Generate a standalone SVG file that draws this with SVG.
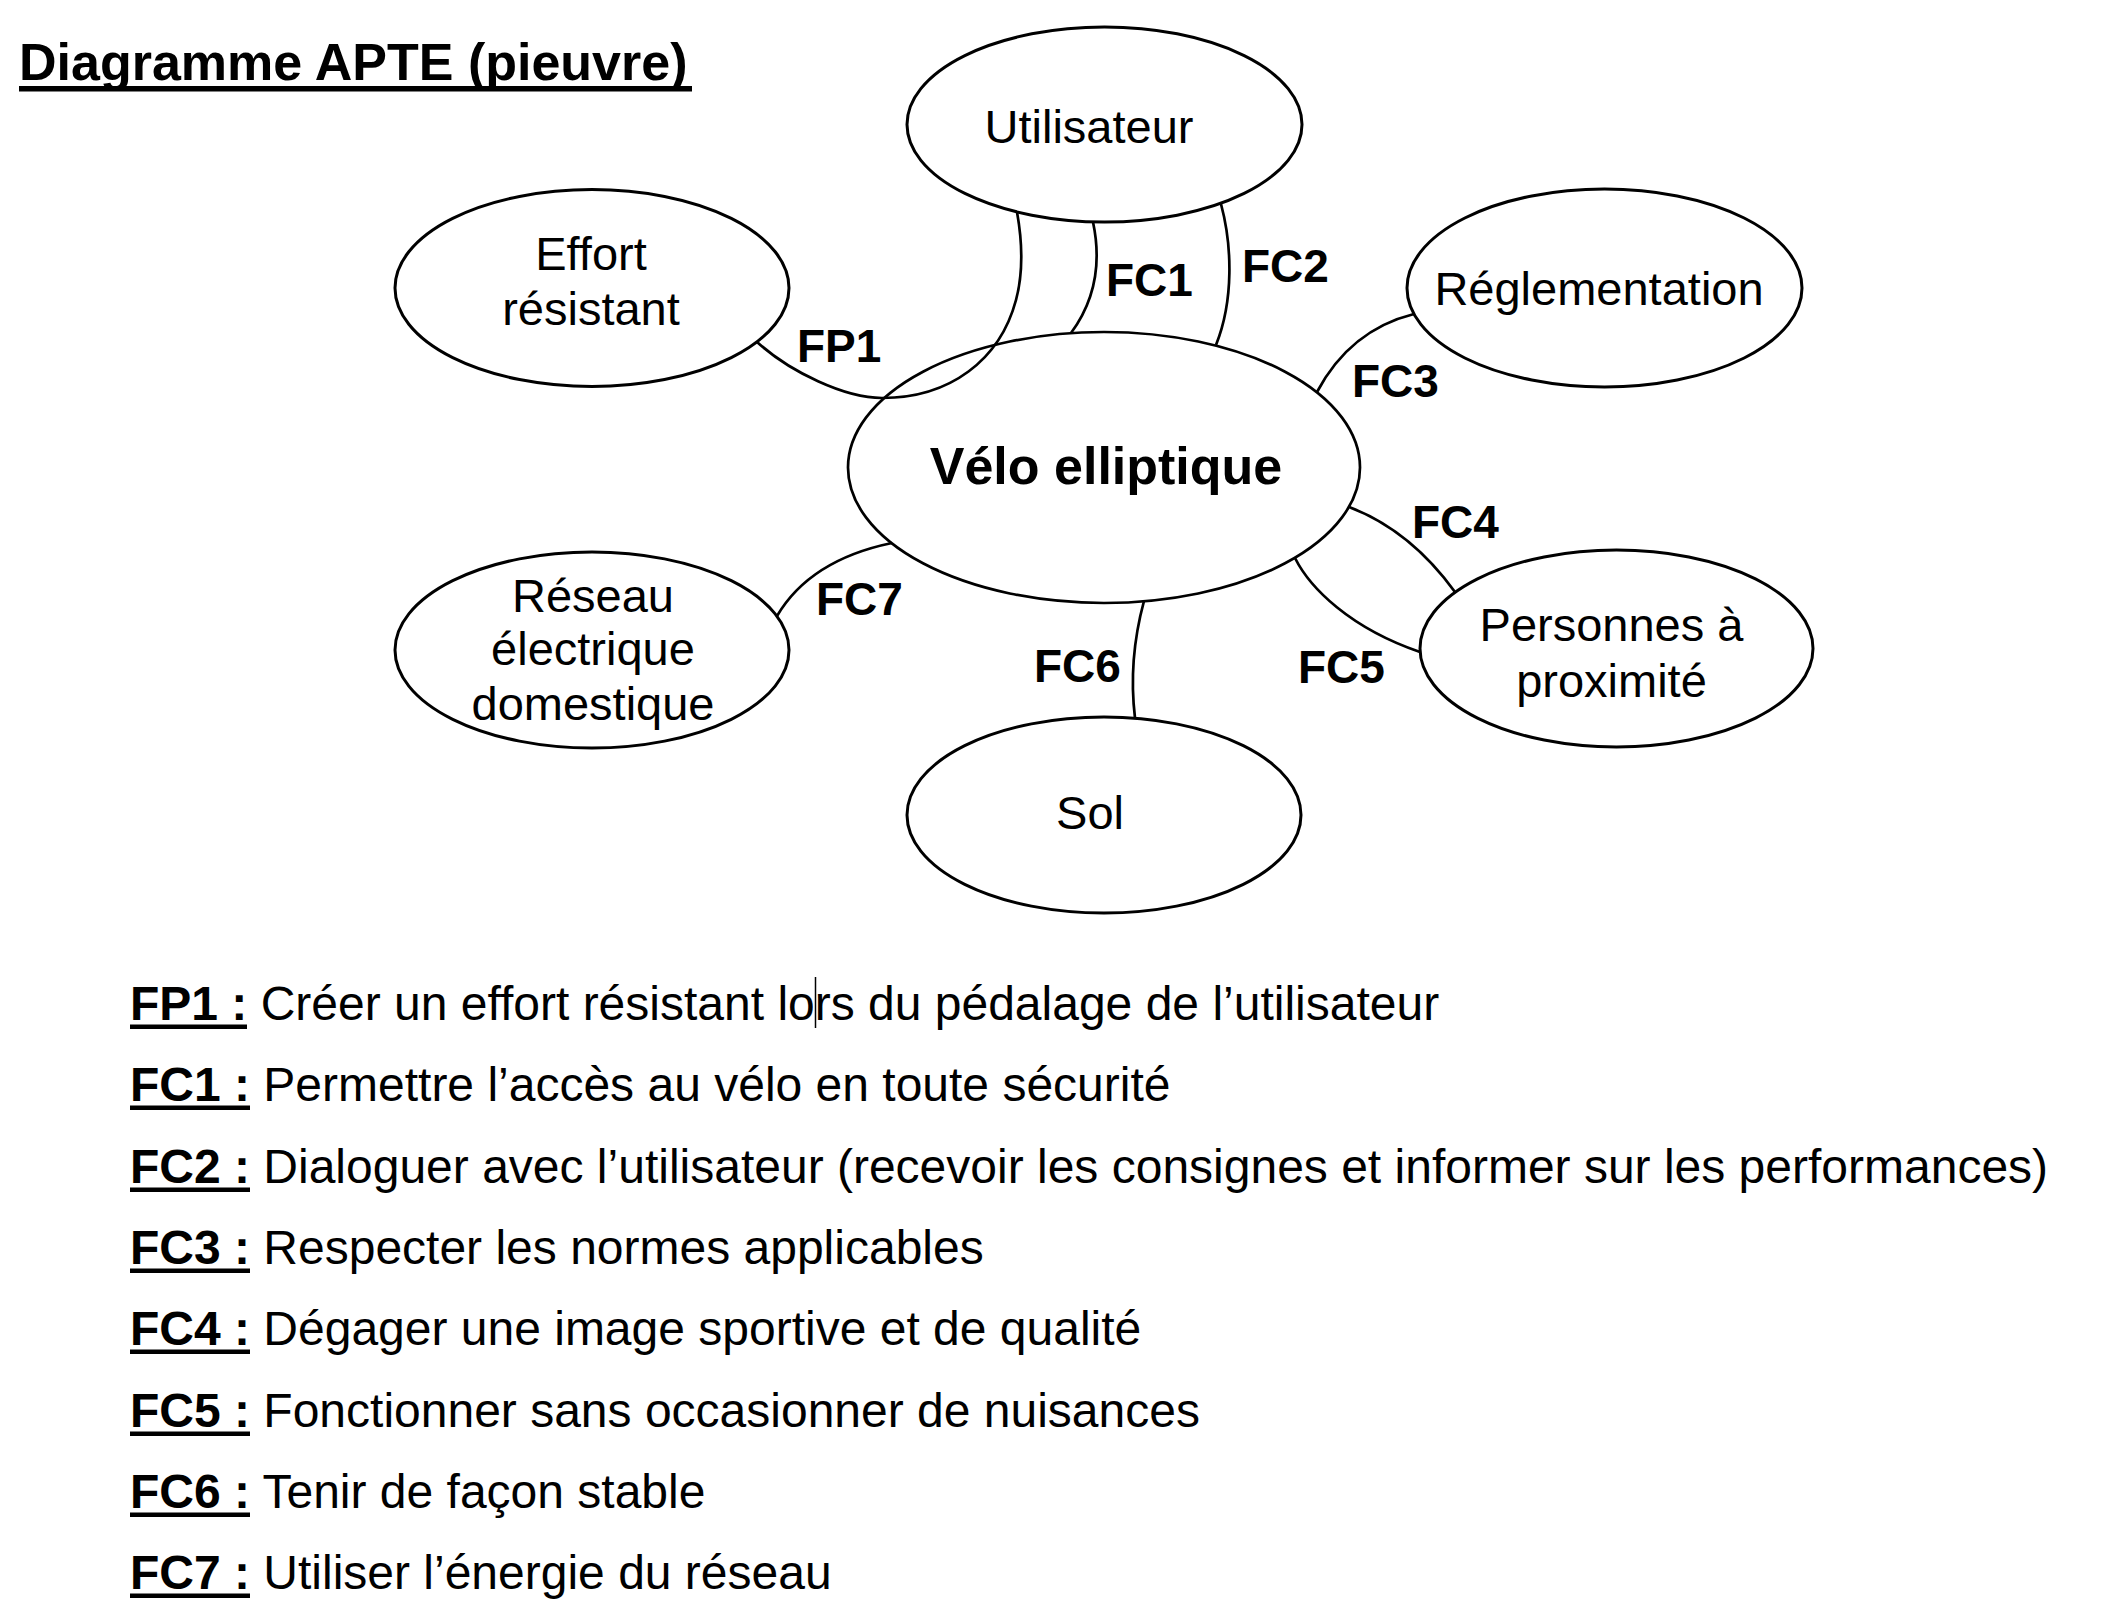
<svg xmlns="http://www.w3.org/2000/svg" width="2112" height="1616" viewBox="0 0 2112 1616">
<style>
  text { font-family: "Liberation Sans", Arial, Helvetica, sans-serif; fill: #000; }
  .node { fill: #fff; stroke: #000; stroke-width: 3; }
  .core { fill: #fff; stroke: #000; stroke-width: 2.7; }
  .lbl { font-size: 47px; text-anchor: middle; }
  .core-lbl { font-size: 52px; font-weight: bold; text-anchor: middle; }
  .fc { font-size: 46px; font-weight: bold; }
  .conn path { fill: none; stroke: #000; stroke-width: 2.7; }
  .title { font-size: 52px; font-weight: bold; }
  .item { font-size: 48px; }
  .key { font-weight: bold; }
  .ul { fill: #000; }
</style>
<rect x="0" y="0" width="2112" height="1616" fill="#fff"/>

<g id="title">
  <text class="title" x="19" y="80">Diagramme APTE (pieuvre)</text>
  <rect class="ul" x="19" y="86" width="673" height="5.5"/>
</g>

<g id="node-utilisateur">
  <ellipse class="node" cx="1104.5" cy="124.5" rx="197.5" ry="97.5"/>
  <text class="lbl" x="1089" y="143">Utilisateur</text>
</g>
<g id="node-effort">
  <ellipse class="node" cx="592" cy="288" rx="197" ry="98.5"/>
  <text class="lbl" x="591" y="270">Effort</text>
  <text class="lbl" x="591" y="325">résistant</text>
</g>
<g id="node-reglementation">
  <ellipse class="node" cx="1604.5" cy="288" rx="197.5" ry="99"/>
  <text class="lbl" x="1599" y="305">Réglementation</text>
</g>
<g id="node-personnes">
  <ellipse class="node" cx="1616.5" cy="648.5" rx="196.5" ry="98.5"/>
  <text class="lbl" x="1611.5" y="641">Personnes à</text>
  <text class="lbl" x="1611.5" y="697">proximité</text>
</g>
<g id="node-sol">
  <ellipse class="node" cx="1104" cy="815" rx="197" ry="98"/>
  <text class="lbl" x="1090" y="829">Sol</text>
</g>
<g id="node-reseau">
  <ellipse class="node" cx="592" cy="650" rx="197" ry="98"/>
  <text class="lbl" x="593" y="612">Réseau</text>
  <text class="lbl" x="593" y="665">électrique</text>
  <text class="lbl" x="593" y="720">domestique</text>
</g>
<g id="node-velo">
  <ellipse class="core" cx="1104" cy="467.5" rx="256" ry="135.5"/>
  <text class="core-lbl" x="1106" y="484">Vélo elliptique</text>
</g>

<g id="connectors" class="conn">
  <path id="c-fp1" d="M757,342 C790,372 845,398 882,398 C950,398 1000,360 1016,300 C1024,270 1022,240 1017,212"/>
  <path id="c-fc1" d="M1093,222 C1100,255 1099,295 1071,333"/>
  <path id="c-fc2" d="M1221,204 C1232,245 1234,300 1216,345"/>
  <path id="c-fc3" d="M1317,392 Q1350,330 1414,314"/>
  <path id="c-fc4" d="M1349,507 Q1410,530 1455,592"/>
  <path id="c-fc5" d="M1295,558 C1310,588 1350,628 1420,652"/>
  <path id="c-fc6" d="M1144,601 Q1128,660 1135,718"/>
  <path id="c-fc7" d="M777,616 Q810,560 892,543"/>
</g>

<g id="connector-labels">
  <text class="fc" x="797" y="362">FP1</text>
  <text class="fc" x="1106" y="296">FC1</text>
  <text class="fc" x="1242" y="282">FC2</text>
  <text class="fc" x="1352" y="397">FC3</text>
  <text class="fc" x="1412" y="538">FC4</text>
  <text class="fc" x="1298" y="683">FC5</text>
  <text class="fc" x="1034" y="682">FC6</text>
  <text class="fc" x="816" y="615">FC7</text>
</g>

<g id="legend">
  <text class="item" x="130" y="1020"><tspan class="key">FP1 :</tspan> Créer un effort résistant lors du pédalage de l’utilisateur</text>
  <rect class="ul" x="130" y="1024.5" width="117" height="4.5"/>
  <line x1="815.5" y1="977" x2="815.5" y2="1028" stroke="#000" stroke-width="1.5"/>
  <text class="item" x="130" y="1101"><tspan class="key">FC1 :</tspan> Permettre l’accès au vélo en toute sécurité</text>
  <rect class="ul" x="130" y="1105.5" width="120" height="4.5"/>
  <text class="item" x="130" y="1183"><tspan class="key">FC2 :</tspan> Dialoguer avec l’utilisateur (recevoir les consignes et informer sur les performances)</text>
  <rect class="ul" x="130" y="1187.5" width="120" height="4.5"/>
  <text class="item" x="130" y="1264"><tspan class="key">FC3 :</tspan> Respecter les normes applicables</text>
  <rect class="ul" x="130" y="1268.5" width="120" height="4.5"/>
  <text class="item" x="130" y="1345"><tspan class="key">FC4 :</tspan> Dégager une image sportive et de qualité</text>
  <rect class="ul" x="130" y="1349.5" width="120" height="4.5"/>
  <text class="item" x="130" y="1427"><tspan class="key">FC5 :</tspan> Fonctionner sans occasionner de nuisances</text>
  <rect class="ul" x="130" y="1431.5" width="120" height="4.5"/>
  <text class="item" x="130" y="1508"><tspan class="key">FC6 :</tspan> Tenir de façon stable</text>
  <rect class="ul" x="130" y="1512.5" width="120" height="4.5"/>
  <text class="item" x="130" y="1589"><tspan class="key">FC7 :</tspan> Utiliser l’énergie du réseau</text>
  <rect class="ul" x="130" y="1593.5" width="120" height="4.5"/>
</g>
</svg>
